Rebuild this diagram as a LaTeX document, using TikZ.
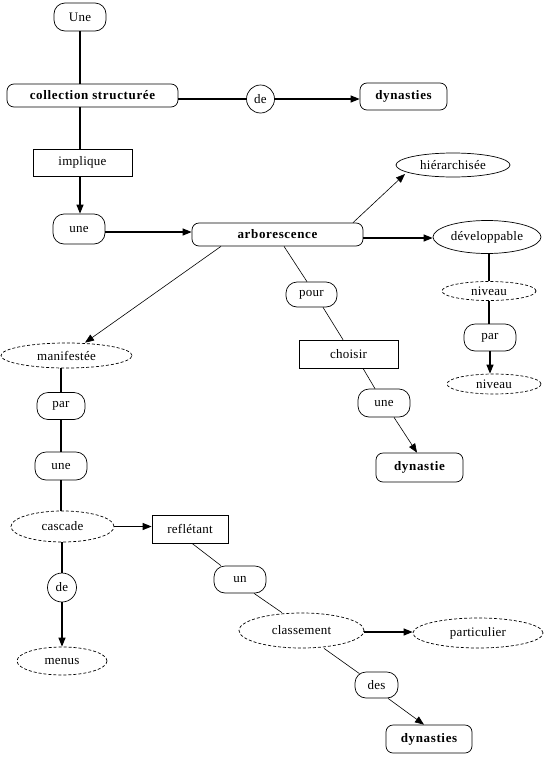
\documentclass[tikz,border=0pt]{standalone}
\usepackage{fontspec}
\setmainfont[LetterSpace=2]{Liberation Serif}
\newfontfamily\wideserif[LetterSpace=5]{Liberation Serif}
\usetikzlibrary{arrows.meta,shapes.geometric,calc}
\tikzset{
  base/.style={draw, line width=0.7pt, inner sep=0pt, font=\fontsize{13}{15}\selectfont},
  rr/.style={base, rectangle, rounded corners=7pt, font=\fontsize{13}{15}\selectfont\wideserif\bfseries},
  stad/.style={base, rectangle, rounded corners=11pt},
  rbox/.style={base, rectangle},
  circ/.style={base, circle},
  ell/.style={base, ellipse},
  dell/.style={ell, dash pattern=on 3pt off 2pt},
  con/.style={line width=1.1pt},
  dcon/.style={line width=0.6pt},
  arr/.style={-{Triangle[length=9pt,width=7pt]}},
  sz/.style 2 args={minimum width=#1pt, minimum height=#2pt}
}
\begin{document}
\begin{tikzpicture}[x=1pt,y=-1pt]
\useasboundingbox (0,0) rectangle (548,758);
% nodes
\node[stad, sz={52}{28}] (Une) at (80,17) {Une};
\node[rr, sz={171}{23}] (coll) at (92.5,95.5) {collection structurée};
\node[circ, minimum size=28pt] (de1) at (260.5,99) {de};
\node[rr, sz={87}{27}] (dyn1) at (403.5,96.5) {dynasties};
\node[rbox, sz={99}{27}] (impl) at (82.5,162.5) {implique};
\node[stad, sz={52}{30}] (une1) at (79,229) {une};
\node[rr, sz={171}{23}] (arb) at (277.5,234.5) {arborescence};
\node[ell, sz={114}{24}] (hier) at (453,165) {hiérarchisée};
\node[ell, sz={108}{33}] (dev) at (487,237) {développable};
\node[dell, sz={94}{19}] (niv1) at (489,291) {niveau};
\node[stad, sz={52}{27}] (par2) at (490,337.5) {par};
\node[dell, sz={94}{20}] (niv2) at (494,384) {niveau};
\node[dell, sz={131}{25}] (manif) at (66.5,355.5) {manifestée};
\node[stad, sz={51}{25}] (pour) at (311.5,294.5) {pour};
\node[rbox, sz={99}{28}] (choisir) at (348.5,354) {choisir};
\node[stad, sz={52}{28}] (une2) at (384,403) {une};
\node[rr, sz={87}{29}] (dynastie) at (419.5,467.5) {dynastie};
\node[stad, sz={48}{27}] (par3) at (61,406) {par};
\node[stad, sz={52}{28}] (une3) at (61,466) {une};
\node[dell, sz={103}{31}] (casc) at (62.5,526.5) {cascade};
\node[rbox, sz={76}{28}] (refl) at (190,529) {reflétant};
\node[circ, minimum size=29pt] (de2) at (62,587.5) {de};
\node[dell, sz={90}{28}] (menus) at (62,661) {menus};
\node[stad, sz={52}{27}] (un) at (240,579.5) {un};
\node[dell, sz={125}{35}] (class) at (301.5,630.5) {classement};
\node[dell, sz={130}{30}] (part) at (478,633) {particulier};
\node[stad, sz={43}{26}] (des) at (376.5,685) {des};
\node[rr, sz={86}{28}] (dyn2) at (429,739) {dynasties};
% connectors
\draw[con] (Une.south) -- (Une.south |- coll.north);
\draw[con] (Une.south |- coll.south) -- (Une.south |- impl.north);
\draw[con,arr] (Une.south |- impl.south) -- (Une.south |- une1.north);
\draw[con] (coll.east |- de1.west) -- (de1.west);
\draw[con,arr] (de1.east) -- (de1.east -| dyn1.west);
\draw[con,arr] ([yshift=-3pt]une1.east) -- ([yshift=-3pt]une1.east -| arb.west);
\draw[dcon,arr] ([xshift=75.5pt]arb.north) -- ([xshift=-48pt,yshift=-9pt]hier.center);
\draw[con,arr] ([yshift=-3.5pt]arb.east) -- ([yshift=-3.5pt]arb.east -| dev.west);
\draw[con] (niv1.north |- dev.south) -- (niv1.north);
\draw[con] (niv1.south) -- (niv1.south |- par2.north);
\draw[con,arr] (par2.south) -- (par2.south |- niv2.north);
\draw[dcon,arr] ([xshift=-56.5pt]arb.south) -- ([xshift=18.5pt]manif.north);
\draw[dcon] ([xshift=6.5pt]arb.south) -- ([xshift=-4.5pt]pour.north);
\draw[dcon] ([xshift=11.5pt]pour.south) -- ([xshift=-5.5pt]choisir.north);
\draw[dcon] ([xshift=14.5pt]choisir.south) -- ([xshift=-9pt]une2.north);
\draw[dcon,arr] ([xshift=10pt]une2.south) -- ([xshift=-2.5pt]dynastie.north);
\draw[con] (par3.north |- manif.south) -- (par3.north);
\draw[con] (par3.south) -- (par3.south |- une3.north);
\draw[con] (une3.south) -- (une3.south |- casc.north);
\draw[con,arr] (casc.east) -- (casc.east -| refl.west);
\draw[con] (de2.north |- casc.south) -- (de2.north);
\draw[con,arr] (de2.south) -- (de2.south |- menus.north);
\draw[dcon] ([xshift=2pt]refl.south) -- ([xshift=-19pt]un.north);
\draw[dcon] ([xshift=14pt]un.south) -- ([xshift=-19.5pt]class.north);
\draw[con,arr] ([yshift=-1.5pt]class.east) -- ([yshift=-1.5pt]class.east -| part.west);
\draw[dcon] ([xshift=22.5pt]class.south) -- ([xshift=-17pt,yshift=-2pt]des.north);
\draw[dcon,arr] ([xshift=11.5pt]des.south) -- ([xshift=-5pt]dyn2.north);
\end{tikzpicture}
\end{document}
